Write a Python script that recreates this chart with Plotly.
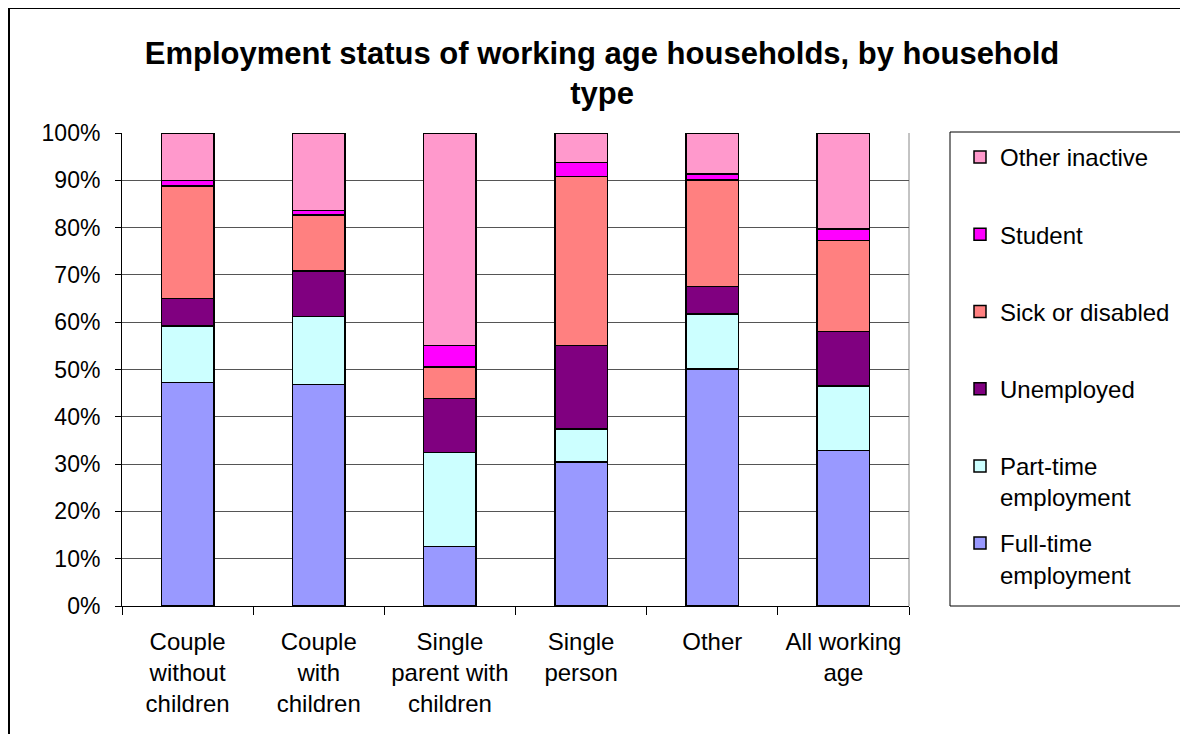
import plotly.graph_objects as go

categories = ["Couple<br>without<br>children", "Couple<br>with<br>children",
              "Single<br>parent with<br>children", "Single<br>person",
              "Other", "All working<br>age"]

full_time = [47.2, 46.8, 12.6, 30.4, 50.1, 32.9]
part_time = [12.0, 14.4, 19.9, 7.0, 11.6, 13.6]
unemployed = [5.8, 9.6, 11.4, 17.7, 5.8, 11.5]
sick_disabled = [23.8, 11.9, 6.6, 35.7, 22.6, 19.3]
student = [1.2, 0.9, 4.6, 3.0, 1.2, 2.4]
other_inactive = [10.0, 16.4, 44.9, 6.2, 8.7, 20.3]

y_ticks = [0, 10, 20, 30, 40, 50, 60, 70, 80, 90, 100]
y_tick_labels = ["0%", "10%", "20%", "30%", "40%", "50%", "60%", "70%", "80%", "90%", "100%"]

series = [
    ("Full-time<br>employment", full_time, "#9999FF", "legend2", 6),
    ("Part-time<br>employment", part_time, "#CCFFFF", "legend", 5),
    ("Unemployed", unemployed, "#800080", "legend", 4),
    ("Sick or disabled", sick_disabled, "#FF8080", "legend", 3),
    ("Student", student, "#FF00FF", "legend", 2),
    ("Other inactive", other_inactive, "#FF99CC", "legend", 1),
]

FONT = "Arial, Liberation Sans, sans-serif"

fig = go.Figure()
for i, (name, vals, color, lg, rank) in enumerate(series):
    fig.add_trace(go.Bar(
        x=categories, y=vals, name=name, legend=lg, legendgroup=f"g{i}",
        legendrank=rank,
        marker=dict(color=color, line=dict(color="black", width=1.5)),
    ))

# the page adds an 8px offset; figure coordinates = screenshot - 8
OFF = 8
W, H = 1188 - OFF, 734 - OFF
L, R, T, B = 122 - OFF, 909 - OFF, 133 - OFF, 606 - OFF
pw, ph = R - L, B - T

def px(x):
    return (x - OFF - L) / pw

def py(y):
    return (B - (y - OFF)) / ph

fig.update_layout(
    width=W, height=H,
    margin=dict(l=L, r=W - R, t=T, b=H - B, pad=0),
    barmode="stack", bargap=0.6,
    paper_bgcolor="white", plot_bgcolor="white",
    font=dict(family=FONT, size=23, color="black"),
    title=dict(text="<b>Employment status of working age households, by household<br>type</b>",
               x=(602 - OFF) / W, xref="container", xanchor="center",
               y=1 - (64 - OFF) / H, yref="container", yanchor="top",
               font=dict(family=FONT, size=31, color="black")),
    xaxis=dict(showline=True, linecolor="black", linewidth=1,
               ticks="outside", ticklen=8, tickcolor="black", tickson="boundaries",
               ticklabelstandoff=14, showgrid=False,
               tickfont=dict(family=FONT, size=24, color="black")),
    yaxis=dict(range=[0, 100], tickmode="array", tickvals=y_ticks, ticktext=y_tick_labels,
               showline=True, linecolor="black", linewidth=1,
               ticks="outside", ticklen=6, tickcolor="black",
               showgrid=True, gridcolor="#555555", gridwidth=1,
               ticklabelstandoff=10, zeroline=False,
               tickfont=dict(family=FONT, size=23, color="black")),
    legend=dict(x=px(960), xanchor="left", y=py(135), yanchor="top",
                traceorder="grouped", tracegroupgap=43, valign="top",
                bgcolor="rgba(0,0,0,0)", borderwidth=0,
                font=dict(family=FONT, size=24, color="black")),
    legend2=dict(x=px(960), xanchor="left", y=py(521), yanchor="top",
                 valign="top", bgcolor="rgba(0,0,0,0)", borderwidth=0,
                 font=dict(family=FONT, size=24, color="black")),
    shapes=[
        # outer chart frame
        dict(type="rect", xref="paper", yref="paper",
             x0=px(9), x1=px(1210), y0=py(760), y1=py(8),
             line=dict(color="black", width=2), fillcolor="rgba(0,0,0,0)", layer="below"),
        # legend box
        dict(type="rect", xref="paper", yref="paper",
             x0=px(950), x1=px(1185), y0=py(606), y1=py(132),
             line=dict(color="black", width=1), fillcolor="rgba(0,0,0,0)", layer="below"),
        # right border of plot area
        dict(type="line", xref="paper", yref="paper", x0=1, x1=1, y0=0, y1=1,
             line=dict(color="#888888", width=1), layer="below"),
    ],
)

fig.write_html("out.html")
